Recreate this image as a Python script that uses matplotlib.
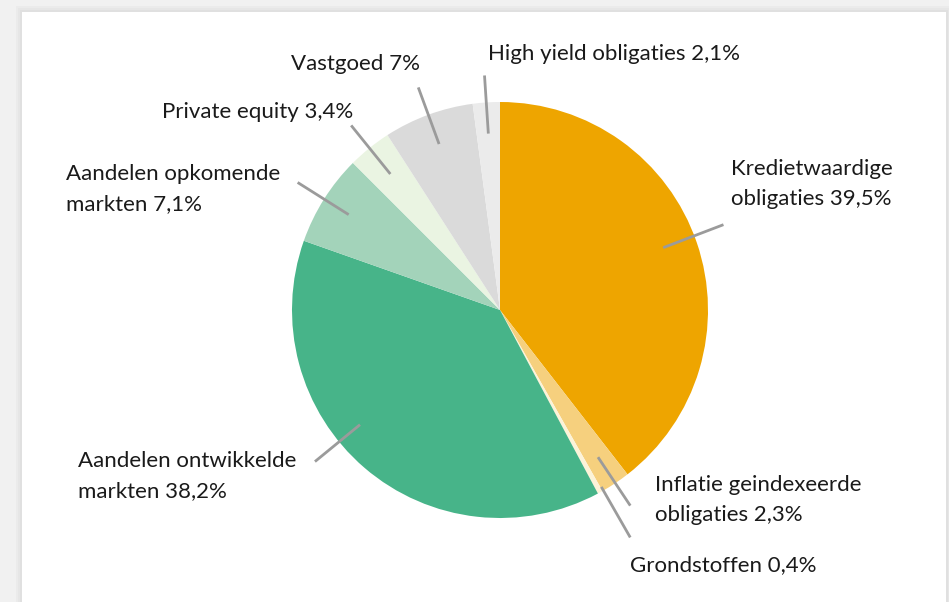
import numpy as np
import matplotlib.pyplot as plt
from matplotlib.patches import Rectangle

plt.rcParams['font.family'] = ['Lato', 'DejaVu Sans']

# data (clockwise from 12 o'clock)
names = ['Kredietwaardige\nobligaties', 'Inflatie geindexeerde\nobligaties', 'Grondstoffen',
         'Aandelen ontwikkelde\nmarkten', 'Aandelen opkomende\nmarkten', 'Private equity',
         'Vastgoed', 'High yield obligaties']
shares = [39.5, 2.3, 0.4, 38.2, 7.1, 3.4, 7.0, 2.1]
colors = ['#EEA500', '#F6D07E', '#FCF3D8', '#47B489', '#A3D3BA', '#EAF4E2', '#DADADA', '#EBEBEB']

def fmt(v):
    s = f"{v:.1f}".rstrip('0').rstrip('.')
    return s.replace('.', ',') + '%'

labels = [f"{n} {fmt(v)}" for n, v in zip(names, shares)]

# layout (pixel space, y measured from the top)
W, H = 949, 602
cx, cy, R = 500, 310, 208
text_pos = [(731, 184), (655, 500), (630, 565), (78, 476),
            (66, 189), (162, 112), (291, 64), (488, 54)]
angle_nudge = [2, 0, 1, -10, 0, 0, 0, 0]
radii = [(0.84, 1.15), (0.85, 1.13), (0.98, 1.26), (0.87, 1.15),
         (0.86, 1.15), (0.84, 1.14), (0.85, 1.14), (0.85, 1.13)]

fig = plt.figure(figsize=(W / 100, H / 100), dpi=100, facecolor='#f1f1f1')
ax = fig.add_axes([0, 0, 1, 1])

# card with soft shadow
for i, c in enumerate(['#ebebeb', '#e6e6e6', '#e0e0e0']):
    pad = 6 - 2 * i
    ax.add_patch(Rectangle((22 - pad, -10), 924 + 2 * pad, H - 12 + 10 + pad,
                           facecolor=c, edgecolor='none', zorder=0))
ax.add_patch(Rectangle((22, -10), 924, H - 12 + 10, facecolor='white',
                       edgecolor='none', zorder=1))

wedges, _ = ax.pie(shares, colors=colors, startangle=90, counterclock=False,
                   center=(cx, H - cy), radius=R, frame=True,
                   wedgeprops=dict(linewidth=0, zorder=2))

for w, lab, (tx, ty), nud, (r0, r1) in zip(wedges, labels, text_pos, angle_nudge, radii):
    w.set_zorder(2)
    a = np.deg2rad((w.theta1 + w.theta2) / 2 + nud)
    x0, y0 = cx + r0 * R * np.cos(a), H - cy + r0 * R * np.sin(a)
    x1, y1 = cx + r1 * R * np.cos(a), H - cy + r1 * R * np.sin(a)
    ax.plot([x0, x1], [y0, y1], color='#9b9b9b', lw=2, solid_capstyle='butt', zorder=3)
    ax.text(tx, H - ty, lab, ha='left', va='center', fontsize=16, color='#1a1a1a',
            linespacing=1.62, zorder=4)

ax.set_xlim(0, W)
ax.set_ylim(0, H)
ax.set_aspect('equal')
ax.axis('off')

fig.savefig('out.png', dpi=100, facecolor=fig.get_facecolor())
